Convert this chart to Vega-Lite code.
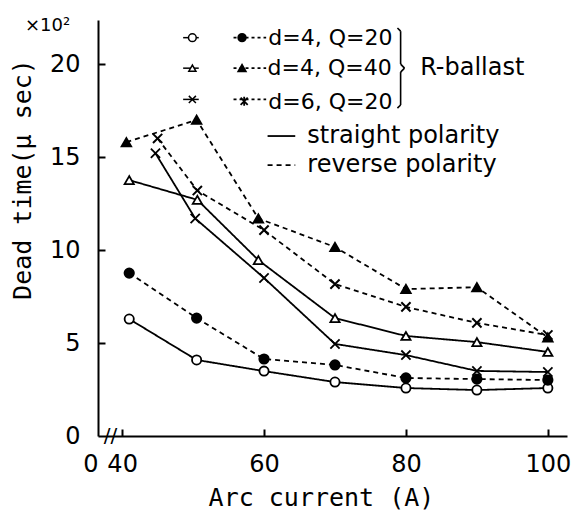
{
  "$schema": "https://vega.github.io/schema/vega-lite/v6.json",
  "autosize": "none",
  "width": 469,
  "height": 416,
  "padding": {"left": 98, "top": 20, "right": 4, "bottom": 76},
  "background": "white",
  "config": {"view": {"stroke": null}},
  "datasets": {"one": [{"k": 1}],
  "main": [
    {"x": 41, "y": 6.29, "series": "d=4, Q=20", "polarity": "straight"},
    {"x": 50.5, "y": 4.09, "series": "d=4, Q=20", "polarity": "straight"},
    {"x": 60, "y": 3.49, "series": "d=4, Q=20", "polarity": "straight"},
    {"x": 70, "y": 2.9, "series": "d=4, Q=20", "polarity": "straight"},
    {"x": 80, "y": 2.58, "series": "d=4, Q=20", "polarity": "straight"},
    {"x": 90, "y": 2.47, "series": "d=4, Q=20", "polarity": "straight"},
    {"x": 100, "y": 2.58, "series": "d=4, Q=20", "polarity": "straight"},
    {"x": 41, "y": 8.76, "series": "d=4, Q=20", "polarity": "reverse"},
    {"x": 50.5, "y": 6.34, "series": "d=4, Q=20", "polarity": "reverse"},
    {"x": 60, "y": 4.14, "series": "d=4, Q=20", "polarity": "reverse"},
    {"x": 70, "y": 3.82, "series": "d=4, Q=20", "polarity": "reverse"},
    {"x": 80, "y": 3.12, "series": "d=4, Q=20", "polarity": "reverse"},
    {"x": 90, "y": 3.06, "series": "d=4, Q=20", "polarity": "reverse"},
    {"x": 100, "y": 3.01, "series": "d=4, Q=20", "polarity": "reverse"},
    {"x": 41, "y": 13.76, "series": "d=4, Q=40", "polarity": "straight"},
    {"x": 50.6, "y": 12.7, "series": "d=4, Q=40", "polarity": "straight"},
    {"x": 59.2, "y": 9.46, "series": "d=4, Q=40", "polarity": "straight"},
    {"x": 70, "y": 6.34, "series": "d=4, Q=40", "polarity": "straight"},
    {"x": 80, "y": 5.38, "series": "d=4, Q=40", "polarity": "straight"},
    {"x": 90, "y": 5.05, "series": "d=4, Q=40", "polarity": "straight"},
    {"x": 100, "y": 4.52, "series": "d=4, Q=40", "polarity": "straight"},
    {"x": 40.6, "y": 15.8, "series": "d=4, Q=40", "polarity": "reverse"},
    {"x": 50.5, "y": 17.0, "series": "d=4, Q=40", "polarity": "reverse"},
    {"x": 59.2, "y": 11.7, "series": "d=4, Q=40", "polarity": "reverse"},
    {"x": 70, "y": 10.16, "series": "d=4, Q=40", "polarity": "reverse"},
    {"x": 80, "y": 7.9, "series": "d=4, Q=40", "polarity": "reverse"},
    {"x": 90, "y": 8.0, "series": "d=4, Q=40", "polarity": "reverse"},
    {"x": 100, "y": 5.3, "series": "d=4, Q=40", "polarity": "reverse"},
    {"x": 44.7, "y": 15.2, "series": "d=6, Q=20", "polarity": "straight"},
    {"x": 50.3, "y": 11.7, "series": "d=6, Q=20", "polarity": "straight"},
    {"x": 60, "y": 8.5, "series": "d=6, Q=20", "polarity": "straight"},
    {"x": 70, "y": 4.95, "series": "d=6, Q=20", "polarity": "straight"},
    {"x": 80, "y": 4.35, "series": "d=6, Q=20", "polarity": "straight"},
    {"x": 90, "y": 3.5, "series": "d=6, Q=20", "polarity": "straight"},
    {"x": 100, "y": 3.44, "series": "d=6, Q=20", "polarity": "straight"},
    {"x": 45, "y": 16.0, "series": "d=6, Q=20", "polarity": "reverse"},
    {"x": 50.6, "y": 13.2, "series": "d=6, Q=20", "polarity": "reverse"},
    {"x": 60, "y": 11.07, "series": "d=6, Q=20", "polarity": "reverse"},
    {"x": 70, "y": 8.17, "series": "d=6, Q=20", "polarity": "reverse"},
    {"x": 80, "y": 6.94, "series": "d=6, Q=20", "polarity": "reverse"},
    {"x": 90, "y": 6.08, "series": "d=6, Q=20", "polarity": "reverse"},
    {"x": 100, "y": 5.43, "series": "d=6, Q=20", "polarity": "reverse"}
  ]},
  "layer": [
    {"data": {"name": "main"},
     "mark": {"type": "line", "color": "black", "strokeWidth": 1.8},
     "encoding": {
      "x": {"field": "x", "type": "quantitative",
        "scale": {"domain": [36.6, 102.7], "nice": false, "zero": false},
        "axis": {"values": [36.6, 40, 60, 80, 100], "labelExpr": "datum.value < 38 ? '0' : datum.label",
          "labelAlign": {"condition": {"test": "datum.value < 38", "value": "right"}, "value": "center"},
          "tickColor": {"condition": {"test": "datum.value < 38", "value": "transparent"}, "value": "black"},
          "grid": false, "domainColor": "black", "domainWidth": 2, "tickWidth": 2, "tickSize": -7,
          "labelPadding": 23, "labelFlush": false, "labelOverlap": false,
          "labelFont": "DejaVu Sans", "labelFontSize": 24, "labelColor": "black",
          "title": "Arc current (A)", "titleFont": "DejaVu Sans Mono", "titleFontSize": 25, "titleFontWeight": "normal",
          "titleColor": "black", "titleX": 223, "titleY": 61, "titleBaseline": "middle", "titleAnchor": null}},
      "y": {"field": "y", "type": "quantitative",
        "scale": {"domain": [0, 22.37], "nice": false},
        "axis": {"values": [0, 5, 10, 15, 20],
          "tickColor": {"condition": {"test": "datum.value < 1", "value": "transparent"}, "value": "black"},
          "grid": false, "domainColor": "black", "domainWidth": 2, "tickWidth": 2, "tickSize": -7,
          "labelPadding": 25, "labelFont": "DejaVu Sans", "labelFontSize": 24, "labelColor": "black",
          "title": "Dead time(μ sec)", "titleFont": "DejaVu Sans Mono", "titleFontSize": 25, "titleFontWeight": "normal",
          "titleColor": "black", "titleX": -76, "titleY": 159, "titleAngle": -90, "titleAlign": "center", "titleBaseline": "middle"}},
      "detail": {"field": "series"},
      "strokeDash": {"field": "polarity", "type": "nominal", "scale": {"domain": ["straight", "reverse"], "range": [[1, 0], [5, 4]]}, "legend": null}}},
    {"data": {"name": "main"},
     "transform": [{"filter": "datum.polarity === 'straight'"}],
     "mark": {"type": "point", "filled": true, "fill": "white", "stroke": "black", "strokeWidth": 1.8, "size": 85, "opacity": 1},
     "encoding": {
       "x": {"field": "x", "type": "quantitative"},
       "y": {"field": "y", "type": "quantitative"},
       "shape": {"field": "series", "type": "nominal", "scale": {"domain": ["d=4, Q=20", "d=4, Q=40", "d=6, Q=20"], "range": ["circle", "triangle-up", "M-1,-1L1,1M-1,1L1,-1"]}, "legend": null}}},
    {"data": {"name": "main"},
     "transform": [{"filter": "datum.polarity === 'reverse'"}],
     "mark": {"type": "point", "filled": true, "fill": "black", "stroke": "black", "strokeWidth": 2, "size": 85, "opacity": 1},
     "encoding": {
       "x": {"field": "x", "type": "quantitative"},
       "y": {"field": "y", "type": "quantitative"},
       "shape": {"field": "series", "type": "nominal", "scale": {"domain": ["d=4, Q=20", "d=4, Q=40", "d=6, Q=20"], "range": ["circle", "triangle-up", "M-1,-1L1,1M-1,1L1,-1M0,-1.3L0,1.3"]}, "legend": null}}},

    {"data": {"name": "one"}, "mark": {"type": "rule", "color": "black", "strokeWidth": 1.5}, "encoding": {"x": {"datum": 48.6}, "x2": {"datum": 50.8}, "y": {"datum": 21.42}}},
    {"data": {"name": "one"}, "mark": {"type": "rule", "color": "black", "strokeWidth": 1.5}, "encoding": {"x": {"datum": 48.6}, "x2": {"datum": 50.8}, "y": {"datum": 19.78}}},
    {"data": {"name": "one"}, "mark": {"type": "rule", "color": "black", "strokeWidth": 1.5}, "encoding": {"x": {"datum": 48.6}, "x2": {"datum": 50.8}, "y": {"datum": 18.1}}},
    {"data": {"name": "one"}, "mark": {"type": "rule", "color": "black", "strokeWidth": 1.8, "strokeDash": [3, 3]}, "encoding": {"x": {"datum": 55.7}, "x2": {"datum": 60.3}, "y": {"datum": 21.42}}},
    {"data": {"name": "one"}, "mark": {"type": "rule", "color": "black", "strokeWidth": 1.8, "strokeDash": [3, 3]}, "encoding": {"x": {"datum": 55.7}, "x2": {"datum": 60.3}, "y": {"datum": 19.78}}},
    {"data": {"name": "one"}, "mark": {"type": "rule", "color": "black", "strokeWidth": 1.8, "strokeDash": [3, 3]}, "encoding": {"x": {"datum": 55.7}, "x2": {"datum": 60.3}, "y": {"datum": 18.1}}},
    {"data": {"name": "one"}, "mark": {"type": "point", "shape": "circle", "filled": true, "fill": "white", "stroke": "black", "strokeWidth": 1.5, "size": 60, "opacity": 1}, "encoding": {"x": {"datum": 49.9}, "y": {"datum": 21.42}}},
    {"data": {"name": "one"}, "mark": {"type": "point", "shape": "triangle-up", "filled": true, "fill": "white", "stroke": "black", "strokeWidth": 1.5, "size": 50, "opacity": 1}, "encoding": {"x": {"datum": 49.9}, "y": {"datum": 19.78}}},
    {"data": {"name": "one"}, "mark": {"type": "point", "shape": "M-1,-1L1,1M-1,1L1,-1", "filled": false, "stroke": "black", "strokeWidth": 1.5, "size": 50, "opacity": 1}, "encoding": {"x": {"datum": 49.9}, "y": {"datum": 18.1}}},
    {"data": {"name": "one"}, "mark": {"type": "point", "shape": "circle", "filled": true, "fill": "black", "stroke": "black", "size": 55, "opacity": 1}, "encoding": {"x": {"datum": 56.9}, "y": {"datum": 21.42}}},
    {"data": {"name": "one"}, "mark": {"type": "point", "shape": "triangle-up", "filled": true, "fill": "black", "stroke": "black", "size": 50, "opacity": 1}, "encoding": {"x": {"datum": 56.9}, "y": {"datum": 19.78}}},
    {"data": {"name": "one"}, "mark": {"type": "point", "shape": "M-1,-1L1,1M-1,1L1,-1M0,-1.3L0,1.3", "filled": false, "stroke": "black", "strokeWidth": 1.8, "size": 50, "opacity": 1}, "encoding": {"x": {"datum": 57.2}, "y": {"datum": 18.0}}},
    {"data": {"name": "one"}, "mark": {"type": "text", "align": "left", "baseline": "middle", "font": "DejaVu Sans", "fontSize": 22, "color": "black", "text": "d=4, Q=20"}, "encoding": {"x": {"datum": 60.6}, "y": {"datum": 21.42}}},
    {"data": {"name": "one"}, "mark": {"type": "text", "align": "left", "baseline": "middle", "font": "DejaVu Sans", "fontSize": 22, "color": "black", "text": "d=4, Q=40"}, "encoding": {"x": {"datum": 60.5}, "y": {"datum": 19.78}}},
    {"data": {"name": "one"}, "mark": {"type": "text", "align": "left", "baseline": "middle", "font": "DejaVu Sans", "fontSize": 22, "color": "black", "text": "d=6, Q=20"}, "encoding": {"x": {"datum": 60.6}, "y": {"datum": 17.96}}},
    {"data": {"name": "one"}, "mark": {"type": "rule", "color": "black", "strokeWidth": 1.6}, "encoding": {"x": {"datum": 78.8}, "x2": {"datum": 79.25}, "y": {"datum": 21.94}, "y2": {"datum": 21.77}}},
    {"data": {"name": "one"}, "mark": {"type": "rule", "color": "black", "strokeWidth": 1.6}, "encoding": {"x": {"datum": 79.25}, "x2": {"datum": 79.25}, "y": {"datum": 21.77}, "y2": {"datum": 20.0}}},
    {"data": {"name": "one"}, "mark": {"type": "rule", "color": "black", "strokeWidth": 1.6}, "encoding": {"x": {"datum": 79.25}, "x2": {"datum": 79.8}, "y": {"datum": 20.0}, "y2": {"datum": 19.78}}},
    {"data": {"name": "one"}, "mark": {"type": "rule", "color": "black", "strokeWidth": 1.6}, "encoding": {"x": {"datum": 79.8}, "x2": {"datum": 79.25}, "y": {"datum": 19.78}, "y2": {"datum": 19.57}}},
    {"data": {"name": "one"}, "mark": {"type": "rule", "color": "black", "strokeWidth": 1.6}, "encoding": {"x": {"datum": 79.25}, "x2": {"datum": 79.25}, "y": {"datum": 19.57}, "y2": {"datum": 17.8}}},
    {"data": {"name": "one"}, "mark": {"type": "rule", "color": "black", "strokeWidth": 1.6}, "encoding": {"x": {"datum": 79.25}, "x2": {"datum": 78.8}, "y": {"datum": 17.8}, "y2": {"datum": 17.63}}},
    {"data": {"name": "one"}, "mark": {"type": "text", "align": "left", "baseline": "middle", "font": "DejaVu Sans", "fontSize": 24, "color": "black", "text": "R-ballast"}, "encoding": {"x": {"datum": 82.0}, "y": {"datum": 19.78}}},
    {"data": {"name": "one"}, "mark": {"type": "rule", "color": "black", "strokeWidth": 1.8}, "encoding": {"x": {"datum": 60.5}, "x2": {"datum": 64.4}, "y": {"datum": 16.13}}},
    {"data": {"name": "one"}, "mark": {"type": "rule", "color": "black", "strokeWidth": 1.8, "strokeDash": [5, 4]}, "encoding": {"x": {"datum": 60.5}, "x2": {"datum": 64.4}, "y": {"datum": 14.57}}},
    {"data": {"name": "one"}, "mark": {"type": "text", "align": "left", "baseline": "middle", "font": "DejaVu Sans", "fontSize": 24, "color": "black", "text": "straight polarity"}, "encoding": {"x": {"datum": 66.1}, "y": {"datum": 16.13}}},
    {"data": {"name": "one"}, "mark": {"type": "text", "align": "left", "baseline": "middle", "font": "DejaVu Sans", "fontSize": 24, "color": "black", "text": "reverse polarity"}, "encoding": {"x": {"datum": 66.1}, "y": {"datum": 14.57}}},
    {"data": {"name": "one"}, "mark": {"type": "text", "align": "center", "baseline": "middle", "font": "DejaVu Sans", "fontSize": 18, "color": "black", "text": "×10²"}, "encoding": {"x": {"datum": 29.5}, "y": {"datum": 22.04}}},
    {"data": {"name": "one"}, "mark": {"type": "text", "align": "center", "baseline": "middle", "font": "DejaVu Sans", "fontSize": 20, "color": "black", "text": "//"}, "encoding": {"x": {"datum": 38.35}, "y": {"datum": 0}}}
  ]
}
